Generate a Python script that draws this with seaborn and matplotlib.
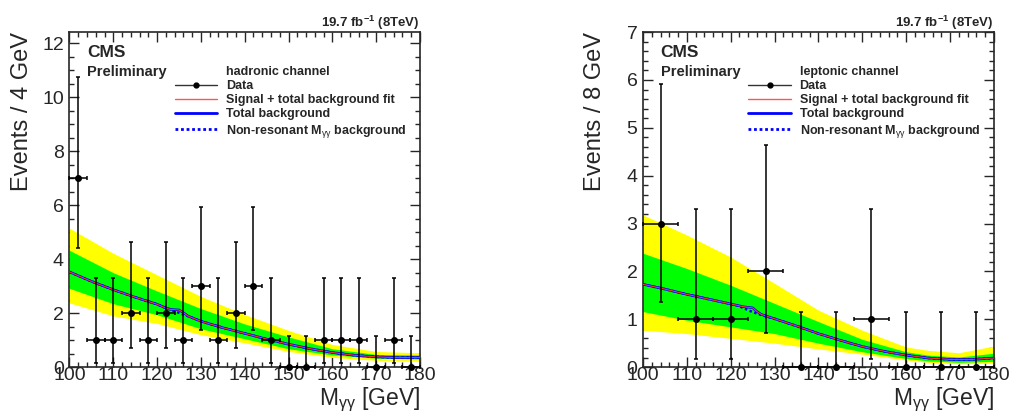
import matplotlib
matplotlib.use('Agg')
from matplotlib import pyplot as plt
from matplotlib.lines import Line2D
from matplotlib.ticker import MultipleLocator

import seaborn as sns

# hadronic channel, 4 GeV bins
had_mass = [102, 106, 110, 114, 118, 122, 126, 130, 134, 138,
            142, 146, 150, 154, 158, 162, 166, 170, 174, 178]
had_events = [7, 1, 1, 2, 1, 2, 1, 3, 1, 2, 3, 1, 0, 0, 1, 1, 1, 0, 1, 0]
had_err_lo = [4.42, 0.17, 0.17, 0.71, 0.17, 0.71, 0.17, 1.37, 0.17, 0.71,
              1.37, 0.17, 0, 0, 0.17, 0.17, 0.17, 0, 0.17, 0]
had_err_hi = [10.77, 3.30, 3.30, 4.64, 3.30, 4.64, 3.30, 5.92, 3.30, 4.64,
              5.92, 3.30, 1.15, 1.15, 3.30, 3.30, 3.30, 1.15, 3.30, 1.15]

# leptonic channel, 8 GeV bins
lep_mass = [104, 112, 120, 128, 136, 144, 152, 160, 168, 176]
lep_events = [3, 1, 1, 2, 0, 0, 1, 0, 0, 0]
lep_err_lo = [1.37, 0.17, 0.17, 0.71, 0, 0, 0.17, 0, 0, 0]
lep_err_hi = [5.92, 3.30, 3.30, 4.64, 1.15, 1.15, 3.30, 1.15, 1.15, 1.15]

# fit curves
fit_mass = [100, 105, 110, 115, 120, 121, 122, 123, 124, 125, 126, 127,
            128, 130, 135, 140, 145, 150, 155, 160, 165, 170, 175, 180]
had_fit = [3.53, 3.18, 2.87, 2.59, 2.33, 2.26, 2.19, 2.14, 2.13, 2.12, 2.02, 1.90,
           1.83, 1.70, 1.46, 1.25, 1.04, 0.85, 0.68, 0.54, 0.44, 0.38, 0.35, 0.36]
had_nonres = [3.53, 3.18, 2.87, 2.59, 2.33, 2.26, 2.20, 2.14, 2.07, 2.01, 1.95, 1.89,
              1.83, 1.70, 1.46, 1.25, 1.04, 0.85, 0.68, 0.54, 0.44, 0.38, 0.35, 0.36]
lep_fit = [1.73, 1.63, 1.52, 1.42, 1.32, 1.30, 1.28, 1.26, 1.25, 1.24, 1.16, 1.10,
           1.07, 1.01, 0.86, 0.70, 0.56, 0.43, 0.33, 0.25, 0.19, 0.16, 0.16, 0.19]
lep_nonres = [1.73, 1.63, 1.52, 1.42, 1.32, 1.30, 1.27, 1.23, 1.19, 1.15, 1.12, 1.09,
              1.06, 1.01, 0.86, 0.70, 0.56, 0.43, 0.33, 0.25, 0.19, 0.16, 0.16, 0.19]

# uncertainty bands
had_band_mass = [100, 110, 120, 130, 140, 150, 160, 170, 180]
had_yellow_hi = [5.15, 4.22, 3.42, 2.62, 1.95, 1.36, 0.84, 0.58, 0.53]
had_green_hi = [4.33, 3.50, 2.82, 2.17, 1.60, 1.12, 0.68, 0.47, 0.45]
had_green_lo = [2.92, 2.35, 1.94, 1.42, 1.05, 0.68, 0.45, 0.33, 0.30]
had_yellow_lo = [2.38, 1.90, 1.62, 1.20, 0.90, 0.58, 0.36, 0.25, 0.22]

lep_band_mass = [100, 110, 120, 130, 140, 150, 160, 165, 172, 180]
lep_yellow_hi = [3.18, 2.76, 2.30, 1.75, 1.19, 0.77, 0.42, 0.35, 0.30, 0.44]
lep_green_hi = [2.38, 2.06, 1.71, 1.33, 0.95, 0.58, 0.32, 0.25, 0.21, 0.29]
lep_green_lo = [1.16, 0.98, 0.84, 0.70, 0.50, 0.32, 0.18, 0.13, 0.10, 0.12]
lep_yellow_lo = [0.77, 0.70, 0.60, 0.50, 0.38, 0.27, 0.15, 0.10, 0.07, 0.08]

sns.set_style('ticks')
plt.rcParams['font.family'] = ['Liberation Sans', 'DejaVu Sans']
plt.rcParams['mathtext.fontset'] = 'custom'
plt.rcParams['mathtext.rm'] = 'Liberation Sans'
plt.rcParams['mathtext.it'] = 'Liberation Sans:italic'
plt.rcParams['mathtext.bf'] = 'Liberation Sans:bold'


def draw_channel(ax, mass, events, err_lo, err_hi, bin_width, fit, nonres,
                 band_mass, y_hi, g_hi, g_lo, y_lo, channel, ylabel, ymax, major, minor):
    """Draw one channel panel in the CMS/ROOT style."""
    ax.fill_between(band_mass, y_lo, y_hi, color='#ffff00', lw=0, zorder=1)
    ax.fill_between(band_mass, g_lo, g_hi, color='#00ff00', lw=0, zorder=2)

    sns.lineplot(x=fit_mass, y=nonres, ax=ax, color='#0000ff', lw=1.8, linestyle=(0, (1, 1)), zorder=3)
    sns.lineplot(x=fit_mass, y=fit, ax=ax, color='#0000ff', lw=1.8, zorder=4)
    sns.lineplot(x=fit_mass, y=fit, ax=ax, color='#ff3333', lw=0.8, zorder=5)

    yerr = [[e - lo for e, lo in zip(events, err_lo)], [hi - e for e, hi in zip(events, err_hi)]]
    ax.errorbar(mass, events, xerr=bin_width / 2, yerr=yerr, fmt='o', ms=4, color='black',
                elinewidth=1.1, capsize=1.5, capthick=1.1, clip_on=False, zorder=6)

    ax.set_xlim(100, 180)
    ax.set_ylim(0, ymax)
    ax.xaxis.set_major_locator(MultipleLocator(10))
    ax.xaxis.set_minor_locator(MultipleLocator(2))
    ax.yaxis.set_major_locator(MultipleLocator(major))
    ax.yaxis.set_minor_locator(MultipleLocator(minor))
    ax.tick_params(which='both', direction='in', top=True, right=True, width=1, labelsize=14)
    ax.tick_params(which='major', length=7)
    ax.tick_params(which='minor', length=3.5)
    ax.tick_params(axis='x', pad=0)
    ax.tick_params(axis='y', pad=4)
    for spine in ax.spines.values():
        spine.set_linewidth(1.2)

    ax.set_ylabel(ylabel, fontsize=17, loc='top')
    ax.yaxis.set_label_coords(-0.105, 1.0)
    ax.set_xlabel(r'M$_{\mathrm{\gamma\gamma}}$ [GeV]', fontsize=16.5, loc='right')
    ax.xaxis.set_label_coords(1.0, -0.056)

    ax.set_title(r'19.7 fb$^{\mathbf{-1}}$ (8TeV)', loc='right', fontsize=9.5, fontweight='bold', pad=3)
    ax.text(0.05, 0.925, 'CMS', transform=ax.transAxes, fontsize=12.5, fontweight='bold')
    ax.text(0.05, 0.869, 'Preliminary', transform=ax.transAxes, fontsize=10.5, fontweight='bold')

    handles = [
        Line2D([], [], lw=0),
        Line2D([], [], color='#333333', lw=1, marker='o', ms=3.5, mfc='black', mec='black'),
        Line2D([], [], color='#ff5555', lw=1),
        Line2D([], [], color='#0000ff', lw=2),
        Line2D([], [], color='#0000ff', lw=2, linestyle=(0, (1, 1))),
    ]
    labels = [channel, 'Data', 'Signal + total background fit', 'Total background',
              r'Non-resonant M$_{\mathrm{\gamma\gamma}}$ background']
    ax.legend(handles, labels, loc='upper left', bbox_to_anchor=(0.30, 0.9), frameon=False,
              borderpad=0, borderaxespad=0, handlelength=3.4, handletextpad=0.7,
              labelspacing=0.18, prop={'weight': 'bold', 'size': 9})


fig = plt.figure(figsize=(10.1, 4.12), dpi=100)
ax1 = fig.add_axes([0.0688, 0.109, 0.347, 0.813])
ax2 = fig.add_axes([0.6366, 0.109, 0.3475, 0.813])

draw_channel(ax1, had_mass, had_events, had_err_lo, had_err_hi, 4, had_fit, had_nonres,
             had_band_mass, had_yellow_hi, had_green_hi, had_green_lo, had_yellow_lo,
             'hadronic channel', 'Events / 4 GeV', 12.42, 2, 0.5)
draw_channel(ax2, lep_mass, lep_events, lep_err_lo, lep_err_hi, 8, lep_fit, lep_nonres,
             lep_band_mass, lep_yellow_hi, lep_green_hi, lep_green_lo, lep_yellow_lo,
             'leptonic channel', 'Events / 8 GeV', 7, 1, 0.2)

fig.savefig('out.png', dpi=100)
plt.close(fig)
